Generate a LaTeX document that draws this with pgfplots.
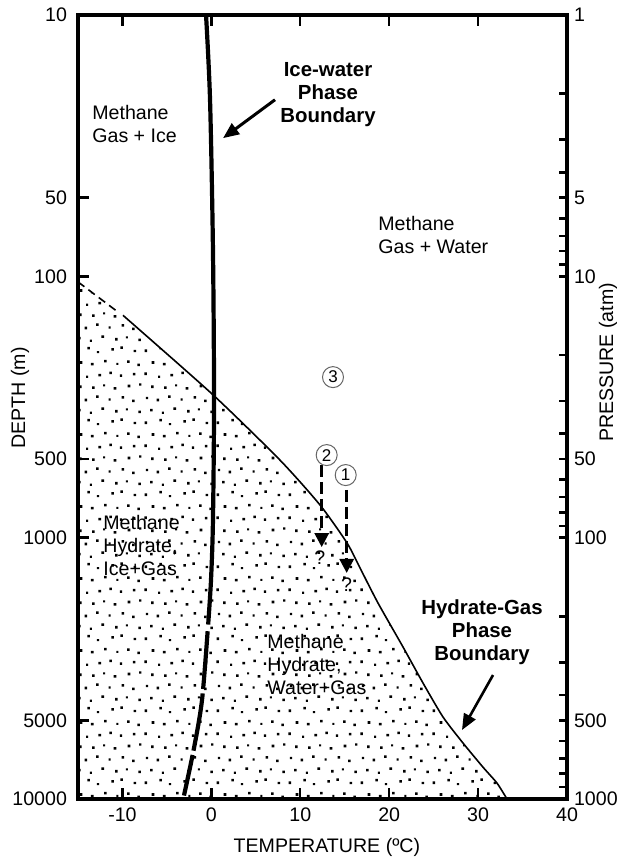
\documentclass[border=0pt]{standalone}
\usepackage{fontspec}
\setmainfont{Liberation Sans}
\usepackage{pgfplots}
\pgfplotsset{compat=1.18}
\usetikzlibrary{patterns,arrows.meta}

\newcommand{\dt}[3]{\pgfpathrectangle{\pgfqpoint{#1pt}{#2pt}}{\pgfqpoint{#3pt}{#3pt}}}
\pgfdeclarepatternformonly{hydratedots}{\pgfpointorigin}{\pgfqpoint{36pt}{36pt}}{\pgfqpoint{36pt}{36pt}}{%
 \dt{0.3}{1.0}{1.3}\dt{7.8}{2.3}{1.3}\dt{12.6}{0.4}{1.1}\dt{19.9}{1.7}{1.3}\dt{24.5}{2.6}{1.3}\dt{31.2}{0.9}{1.2}%
 \dt{3.1}{7.4}{1.3}\dt{9.0}{6.2}{1.1}\dt{14.9}{8.1}{1.3}\dt{21.8}{6.8}{1.3}\dt{27.3}{7.9}{1.0}\dt{33.6}{6.5}{1.3}%
 \dt{0.9}{13.6}{1.2}\dt{6.4}{12.5}{1.3}\dt{12.2}{14.2}{1.3}\dt{18.5}{12.9}{1.1}\dt{25.1}{13.8}{1.3}\dt{30.4}{12.1}{1.3}%
 \dt{3.6}{19.2}{1.3}\dt{10.2}{18.8}{1.3}\dt{15.8}{20.1}{1.0}\dt{21.1}{18.4}{1.3}\dt{28.2}{19.6}{1.3}\dt{33.9}{20.4}{1.2}%
 \dt{0.2}{25.8}{1.3}\dt{7.1}{24.4}{1.1}\dt{13.4}{25.1}{1.3}\dt{18.9}{26.2}{1.3}\dt{24.2}{24.9}{1.2}\dt{30.8}{25.6}{1.3}%
 \dt{3.9}{31.5}{1.3}\dt{9.6}{30.7}{1.3}\dt{16.2}{32.2}{1.3}\dt{22.4}{31.0}{1.0}\dt{27.9}{31.9}{1.3}\dt{33.1}{30.3}{1.3}%
 \pgfusepath{fill}}

\newcommand{\lab}{\fontsize{9.8}{11.5}\selectfont}
\newcommand{\blab}{\fontsize{10.2}{11.4}\selectfont\bfseries}

\begin{document}
\begin{tikzpicture}
\begin{axis}[
  scale only axis, width=244.5pt, height=392pt,
  xmin=-15, xmax=40,
  ymode=log, ymin=10, ymax=10000, y dir=reverse,
  axis line style={line width=2pt},
  xtick={-10,0,10,20,30,40}, xticklabels={-10,0,10,20,30,40},
  xtick pos=both, xticklabel pos=bottom,
  ytick={10,50,100,500,1000,5000,10000},
  yticklabels={10,50,100,500,1000,5000,10000},
  ytick pos=left, yticklabel pos=left,
  tick align=inside,
  major tick length=5.5pt,
  tick style={black, line width=1.2pt},
  tick label style={font=\lab},
  yticklabel style={xshift=-2pt},
  xticklabel style={yshift=-1pt},
  label style={font=\lab},
  xlabel={TEMPERATURE (ºC)},
  ylabel={DEPTH (m)},
  xlabel style={at={(axis description cs:0.509,-0.0612)}, anchor=center},
  ylabel style={at={(axis description cs:-0.1186,0.5115)}, anchor=center},
]
\coordinate (SW) at (axis description cs:0,0);
\coordinate (NE) at (axis description cs:1,1);

% stippled hydrate stability field
\addplot[draw=none, pattern=hydratedots, pattern color=black, forget plot] coordinates {
 (-15,105) (-10.5,137) (-9.94,141) (0.18,284) (7.72,505) (12.22,750)
 (15.26,1048) (16.72,1306) (18.74,1778) (21.55,2618) (23.80,3597)
 (26.05,4853) (28.30,6106) (30.55,7554) (32.13,8697) (33.25,10000)
 (-15,10000)} -- cycle;

% hydrate-gas phase boundary
\addplot[black, mark=none, line width=0.8pt, dash pattern=on 4pt off 2.5pt] coordinates {
 (-15,105) (-10.5,137)};
\addplot[black, mark=none, line width=0.8pt, smooth, tension=0.4] coordinates {
 (-9.94,141) (0.18,284) (7.72,505) (12.22,750)
 (15.26,1048) (16.72,1306) (18.74,1778) (21.55,2618) (23.80,3597)
 (26.05,4853) (28.30,6106) (30.55,7554) (32.13,8697) (33.25,10000)};

% ice-water phase boundary
\addplot[black, mark=none, line width=2.1pt, smooth] coordinates {
 (-0.60,10) (-0.15,21.1) (0.18,79.3) (0.30,297) (0.18,855) (-0.04,1452) (-0.36,2150)};
\addplot[black, mark=none, line width=2.1pt, smooth, dash pattern=on 29pt off 2.2pt] coordinates {
 (-0.42,2280) (-1.05,4178) (-1.95,6376) (-3.08,9700)};

% paths 1 and 2
\addplot[black, mark=none, line width=1.4pt, dash pattern=on 6pt off 2.5pt,
  -{Triangle[length=7pt,width=7pt]}] coordinates {(12.41,527) (12.41,1087)};
\addplot[black, mark=none, line width=1.4pt, dash pattern=on 6pt off 2.5pt,
  -{Triangle[length=7pt,width=7pt]}] coordinates {(15.22,657) (15.22,1365)};

\node[font=\lab] at (axis cs:12.19,1197) {?};
\node[font=\lab] at (axis cs:15.22,1517) {?};

\node[circle, draw=black!60, line width=0.5pt, inner sep=0pt, minimum size=10.5pt,
  font=\fontsize{8.5}{9}\selectfont] at (axis cs:13.68,243) {3};
\node[circle, draw=black!60, line width=0.5pt, inner sep=0pt, minimum size=10.5pt,
  font=\fontsize{8.5}{9}\selectfont] at (axis cs:12.97,483) {2};
\node[circle, draw=black!60, line width=0.5pt, inner sep=0pt, minimum size=10.5pt,
  font=\fontsize{8.5}{9}\selectfont] at (axis cs:15.11,576) {1};

% region labels
\node[font=\lab, align=left, anchor=west, inner sep=0pt] at (axis cs:-13.43,26.2) {Methane\\Gas + Ice};
\node[font=\lab, align=left, anchor=west, inner sep=0pt] at (axis cs:18.74,69.5) {Methane\\Gas + Water};
\node[font=\lab, align=left, anchor=west, inner sep=0pt] at (axis cs:-12.19,1076) {Methane\\Hydrate,\\Ice+Gas};
\node[font=\lab, align=left, anchor=west, inner sep=0pt] at (axis cs:6.26,3069) {Methane\\Hydrate,\\Water+Gas};

\node[font=\blab, align=center, inner sep=0pt] at (axis cs:13.12,20.2) {Ice-water\\Phase\\Boundary};
\node[font=\blab, align=center, inner sep=0pt] at (axis cs:30.44,2296) {Hydrate-Gas\\Phase\\Boundary};

\draw[line width=1.5pt, -{Triangle[length=8pt,width=6.5pt]}] (axis cs:7.16,21.1) -- (axis cs:1.31,29.6);
\draw[line width=1.3pt, -{Triangle[length=8pt,width=6.5pt]}] (axis cs:31.68,3355) -- (axis cs:28.19,5445);
\end{axis}

\begin{axis}[
  scale only axis, width=244.5pt, height=392pt,
  xmin=-15, xmax=40,
  ymode=log, ymin=1, ymax=1000, y dir=reverse,
  axis x line=none, axis y line*=right,
  axis line style={line width=2pt, -},
  ytick={1,5,10,50,100,500,1000},
  yticklabels={1,5,10,50,100,500,1000},
  minor ytick={2,3,4,6,7,8,9,20,30,40,60,70,80,90,200,300,400,600,700,800,900},
  ytick pos=right, yticklabel pos=right,
  tick align=inside,
  major tick length=4pt, minor tick length=4pt,
  tick style={black, line width=1.2pt},
  tick label style={font=\lab},
  label style={font=\lab},
  ylabel={PRESSURE (atm)},
  ylabel style={at={(axis description cs:1.084,0.557)}, anchor=center},
]
\end{axis}
\pgfresetboundingbox
\path[use as bounding box] ([shift={(-39pt,-29.5pt)}]SW) rectangle ([shift={(25pt,7.5pt)}]NE);
\end{tikzpicture}
\end{document}
